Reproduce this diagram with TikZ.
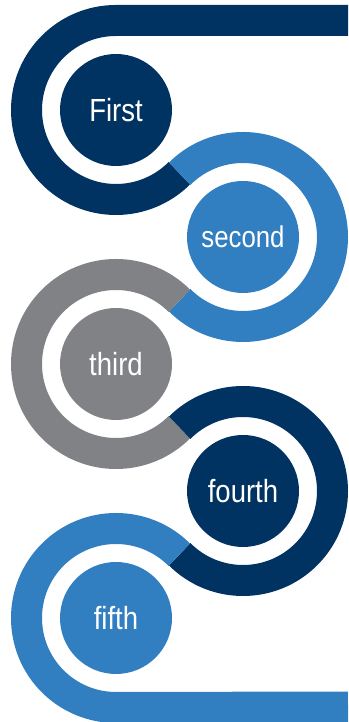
\documentclass[tikz,border=0pt]{standalone}
\usepackage{fontspec}
\newfontfamily\lblfont{Liberation Sans}[FakeStretch=0.86]
\definecolor{navy}{RGB}{0,51,97}
\definecolor{lblue}{RGB}{49,126,193}
\definecolor{lgray}{RGB}{128,130,133}
\tikzset{
  stepdot/.style={circle, minimum size=112pt, inner sep=0pt, text=white,
    font=\lblfont\fontsize{32}{36}\selectfont},
  band/.style={line width=31pt}
}
\begin{document}
\begin{tikzpicture}[x=1pt,y=1pt]
\useasboundingbox (0,0) rectangle (348,722);
\node[stepdot, fill=navy]  (n1) at (116,612) {First};
\node[stepdot, fill=lblue, font=\lblfont\fontsize{30}{34}\selectfont] (n2) at (243,485) {second};
\node[stepdot, fill=lgray] (n3) at (116,358) {third};
\node[stepdot, fill=navy]  (n4) at (243,231) {fourth};
\node[stepdot, fill=lblue] (n5) at (116,104) {fifth};
\coordinate (topend) at (348,701.5);
\coordinate (botend) at (348,15);
% band 1
\draw[band, navy] (topend) -- ([shift={(90:89.5pt)}]n1.center)
  arc[start angle=90, end angle=315, radius=89.5pt];
% band 2
\draw[band, lblue] ([shift={(135:89.5pt)}]n2.center)
  arc[start angle=135, end angle=-135, radius=89.5pt];
% band 3
\draw[band, lgray] ([shift={(45:89.5pt)}]n3.center)
  arc[start angle=45, end angle=315, radius=89.5pt];
% band 4
\draw[band, navy] ([shift={(135:89.5pt)}]n4.center)
  arc[start angle=135, end angle=-135, radius=89.5pt];
% band 5
\draw[band, lblue] ([shift={(45:89.5pt)}]n5.center)
  arc[start angle=45, end angle=270, radius=89.5pt] -- (botend);
\end{tikzpicture}
\end{document}
